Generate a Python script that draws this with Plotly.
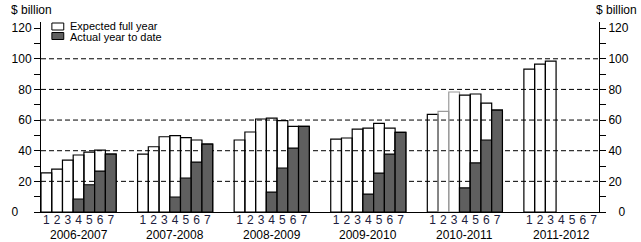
import plotly.graph_objects as go

years = ["2006-2007", "2007-2008", "2008-2009", "2009-2010", "2010-2011", "2011-2012"]
months = ["1", "2", "3", "4", "5", "6", "7"]

expected_0607 = [25.5, 28.0, 33.9, 37.2, 39.1, 40.4, 37.8]
expected_0708 = [37.8, 42.6, 49.1, 49.8, 48.5, 47.0, 44.3]
expected_0809 = [47.0, 52.2, 60.7, 61.3, 59.6, 55.9, 55.9]
expected_0910 = [47.6, 48.3, 54.1, 54.8, 57.8, 54.8, 52.0]
expected_1011 = [63.7, 65.7, 78.3, 76.3, 77.0, 71.1, 66.5]
expected_1112 = [93.3, 96.5, 98.5, None, None, None, None]

actual_0607 = [None, None, None, 8.5, 17.8, 26.7, 37.8]
actual_0708 = [None, None, None, 9.8, 22.2, 32.6, 44.3]
actual_0809 = [None, None, None, 13.0, 28.7, 41.7, 55.9]
actual_0910 = [None, None, None, 11.7, 25.4, 37.8, 52.0]
actual_1011 = [None, None, None, 15.7, 32.0, 47.0, 66.5]
actual_1112 = [None, None, None, None, None, None, None]

y_ticks = [0, 10, 20, 30, 40, 50, 60, 70, 80, 90, 100, 110, 120]
y_grid = [20, 40, 60, 80, 100]

expected = [expected_0607, expected_0708, expected_0809, expected_0910, expected_1011, expected_1112]
actual = [actual_0607, actual_0708, actual_0809, actual_0910, actual_1011, actual_1112]

SLOTS = 9  # 7 bars + 2 empty slots per year group
xs, ex, ac, labels, outline = [], [], [], [], []
for g, yr in enumerate(years):
    for b, m in enumerate(months):
        xs.append(g * SLOTS + b + 1)
        ex.append(expected[g][b])
        ac.append(actual[g][b])
        labels.append(m)
        outline.append("#9a9a9a" if (yr == "2010-2011" and m in ("2", "3")) else "black")

W, H = 641, 242
ML, MR, MT, MB = 36, 41, 22, 30
PW, PH = W - ML - MR, H - MT - MB


def px(x):
    return (x - ML) / PW


def py(y):
    return (H - MB - y) / PH


FONT = "Liberation Sans, Arial, sans-serif"

fig = go.Figure()
fig.add_trace(go.Bar(
    x=xs, y=ex, width=1, name="Expected full year",
    marker=dict(color="rgba(255,255,255,0)", line=dict(color=outline, width=1.2)),
    showlegend=False, hoverinfo="skip"))
fig.add_trace(go.Bar(
    x=xs, y=ac, width=1, name="Actual year to date",
    marker=dict(color="#5f5f5f", line=dict(color="black", width=1.2)),
    showlegend=False, hoverinfo="skip"))
fig.add_trace(go.Scatter(x=[None], y=[None], yaxis="y2", showlegend=False, hoverinfo="skip"))

left_text = ["0\u00a0\u00a0\u00a0\u00a0" if v == 0 else (str(v) if v % 20 == 0 else "") for v in y_ticks]
right_text = ["\u00a0\u00a0\u00a00" if v == 0 else (str(v) if v % 20 == 0 else "") for v in y_ticks]

yr_max = 124
fig.update_layout(
    width=W, height=H,
    margin=dict(l=ML, r=MR, t=MT, b=MB, pad=0),
    paper_bgcolor="white", plot_bgcolor="white",
    barmode="overlay",
    font=dict(family=FONT, size=12, color="black"),
    xaxis=dict(range=[0.5, SLOTS * 5 + 7.5], tickvals=xs, ticktext=labels,
               showgrid=False, zeroline=False, showline=True, linecolor="black", linewidth=1,
               ticks="", ticklabelstandoff=-3,
               tickfont=dict(size=12, color="#1c1c3c"), tickangle=0, fixedrange=True),
    yaxis=dict(range=[0, yr_max], tickvals=y_ticks, ticktext=left_text,
               showgrid=False, zeroline=False, showline=True, linecolor="black", linewidth=1,
               ticks="outside", ticklen=6, tickcolor="black", tickwidth=1,
               tickfont=dict(size=12), fixedrange=True),
    yaxis2=dict(range=[0, yr_max], overlaying="y", side="right", tickvals=y_ticks, ticktext=right_text,
                showgrid=False, zeroline=False, showline=True, linecolor="black", linewidth=1,
                ticks="outside", ticklen=6, tickcolor="black", tickwidth=1,
                tickfont=dict(size=12), fixedrange=True),
)

shapes = []
for v in y_grid:
    shapes.append(dict(type="line", xref="paper", x0=0, x1=1, yref="y", y0=v, y1=v,
                       line=dict(color="black", width=1, dash="5px,3px"), layer="below"))
# legend swatches
shapes.append(dict(type="rect", xref="paper", yref="paper", x0=px(47), x1=px(59), y0=py(30), y1=py(23),
                   fillcolor="white", line=dict(color="black", width=1)))
shapes.append(dict(type="rect", xref="paper", yref="paper", x0=px(47), x1=px(59), y0=py(39.5), y1=py(32.5),
                   fillcolor="#5f5f5f", line=dict(color="black", width=1)))
fig.update_layout(shapes=shapes)

ann = []
for g, yr in enumerate(years):
    ann.append(dict(x=g * SLOTS + 4, xref="x", y=0, yref="paper", yanchor="middle", yshift=-22.5,
                    text=yr, showarrow=False, font=dict(size=12, color="black")))
ann.append(dict(x=px(63), y=py(26.5), xref="paper", yref="paper", xanchor="left", yanchor="middle",
                text="Expected full year", showarrow=False, font=dict(size=11)))
ann.append(dict(x=px(63), y=py(36.5), xref="paper", yref="paper", xanchor="left", yanchor="middle",
                text="Actual year to date", showarrow=False, font=dict(size=11)))
ann.append(dict(x=px(4), y=py(10), xref="paper", yref="paper", xanchor="left", yanchor="middle",
                text="$ billion", showarrow=False, font=dict(size=12)))
ann.append(dict(x=px(640), y=py(10), xref="paper", yref="paper", xanchor="right", yanchor="middle",
                text="$ billion", showarrow=False, font=dict(size=12)))
fig.update_layout(annotations=ann)

fig.write_html("out.html")
